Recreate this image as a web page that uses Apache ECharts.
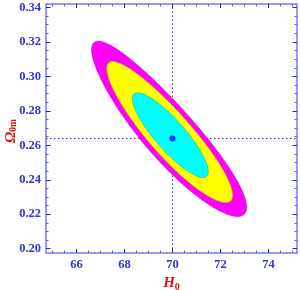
<!DOCTYPE html>
<html><head><meta charset="utf-8">
<script src="https://cdn.jsdelivr.net/npm/echarts@6/dist/echarts.min.js"></script>
<style>html,body{margin:0;padding:0;background:#fff}#c{width:300px;height:290px}</style>
</head><body><div id="c"></div>
<script>
// Best-fit point
const bestH0 = [70.0];
const bestOm = [0.264];
// Confidence contours (outer -> inner): centre, half extent along each axis, correlation,
// plus bend / asymmetric widening (toward low H0, low Omega) of the middle part
const contourNames = ['3sigma', '2sigma', '1sigma'];
const centerH0 = [69.86, 69.885, 69.91];
const centerOm = [0.2698, 0.2678, 0.2659];
const halfH0 = [3.23, 2.625, 1.58];
const halfOm = [0.0506, 0.0407, 0.0246];
const corr = [-0.91, -0.91, -0.86];
const bendH0 = [0.10, 0.04, 0.0];
const bendOm = [0.0014, 0.0006, 0.0];
const widenH0 = [0.045, 0.04, 0.0];
const widenOm = [0.0006, 0.0006, 0.0];
// Tick labels
const xTicks = [66, 68, 70, 72, 74];
const yTicks = [0.20, 0.22, 0.24, 0.26, 0.28, 0.30, 0.32, 0.34];
const xMinor = [65, 65.5, 66.5, 67, 67.5, 68.5, 69, 69.5, 70.5, 71, 71.5, 72.5, 73, 73.5, 74.5, 75];
const yMinor = [0.205, 0.21, 0.215, 0.225, 0.23, 0.235, 0.245, 0.25, 0.255, 0.265, 0.27, 0.275, 0.285, 0.29, 0.295, 0.305, 0.31, 0.315, 0.325, 0.33, 0.335];

const X_MIN = 64.73, X_MAX = 75.19, Y_MIN = 0.1975, Y_MAX = 0.342;
const fillColors = ['#FF00FF', '#FFFF00', '#00FFFF'];
const edgeColors = ['#A000A0', '#A0A000', '#00A0A0'];

function contourPoints(i) {
  const pts = [];
  const phi = Math.acos(corr[i]);
  const N = 200;
  for (let k = 0; k < N; k++) {
    const t = 2 * Math.PI * k / N;
    const s = Math.sin(t);
    const g = s * s, w = s;
    pts.push([
      centerH0[i] + halfH0[i] * Math.cos(t) - bendH0[i] * g - widenH0[i] * w,
      centerOm[i] + halfOm[i] * Math.cos(t + phi) - bendOm[i] * g - widenOm[i] * w
    ]);
  }
  return pts;
}

const axisLineColor = '#7878F0';
const tickColor = '#1E1EE0';
const labelFont = {color: '#3434D8', fontFamily: 'Liberation Serif', fontWeight: 'bold', fontSize: 12.5};

function xAx(pos, major, showLabel) {
  return {
    type: 'value', position: pos, min: X_MIN, max: X_MAX,
    axisLine: {show: major, onZero: false, lineStyle: {color: axisLineColor, width: 1.5}},
    axisTick: {show: true, inside: true, length: major ? 4 : 2.5, customValues: major ? xTicks : xMinor,
      lineStyle: {color: major ? tickColor : '#5A5AE8', width: 1}},
    axisLabel: {show: showLabel, customValues: xTicks, margin: 5, ...labelFont},
    splitLine: {show: false}
  };
}
function yAx(pos, major, showLabel) {
  return {
    type: 'value', position: pos, min: Y_MIN, max: Y_MAX,
    axisLine: {show: major, onZero: false, lineStyle: {color: axisLineColor, width: 1.5}},
    axisTick: {show: true, inside: true, length: major ? 4.5 : 2.5, customValues: major ? yTicks : yMinor,
      lineStyle: {color: major ? tickColor : '#5A5AE8', width: 1}},
    axisLabel: {show: showLabel, customValues: yTicks, margin: 5, formatter: v => v.toFixed(2), ...labelFont},
    splitLine: {show: false}
  };
}

const xAxes = [xAx('bottom', true, true), xAx('bottom', false, false), xAx('top', true, false), xAx('top', false, false)];
xAxes[0].name = '{h|H}{s|0}';
xAxes[0].nameLocation = 'middle';
xAxes[0].nameGap = 22;
xAxes[0].nameTextStyle = {rich: {
  h: {fontFamily: 'Liberation Serif', fontStyle: 'italic', fontWeight: 'bold', fontSize: 15, color: '#E01010'},
  s: {fontFamily: 'Liberation Serif', fontWeight: 'bold', fontSize: 10, color: '#E01010', padding: [7, 0, 0, 0]}
}};
const yAxes = [yAx('left', true, true), yAx('left', false, false), yAx('right', true, false), yAx('right', false, false)];

const series = [];
// dotted reference lines through the best-fit point (behind the contours)
series.push({
  type: 'line', xAxisIndex: 0, yAxisIndex: 0, z: 1, symbol: 'none', silent: true,
  lineStyle: {color: '#2222E0', type: [1.5, 2.5], width: 1},
  data: [[bestH0[0], Y_MIN], [bestH0[0], Y_MAX]]
});
series.push({
  type: 'line', xAxisIndex: 0, yAxisIndex: 0, z: 1, symbol: 'none', silent: true,
  lineStyle: {color: '#2222E0', type: [1.5, 2.5], width: 1},
  data: [[X_MIN, bestOm[0]], [X_MAX, bestOm[0]]]
});
contourNames.forEach((nm, i) => series.push({
  name: nm, type: 'custom', xAxisIndex: 0, yAxisIndex: 0, z: 2 + i,
  data: [0],
  renderItem: (params, api) => ({
    type: 'polygon',
    shape: {points: contourPoints(i).map(p => api.coord(p))},
    style: {fill: fillColors[i], stroke: edgeColors[i], lineWidth: 0.5}
  })
}));
series.push({
  type: 'scatter', xAxisIndex: 0, yAxisIndex: 0, z: 10,
  symbolSize: 6, itemStyle: {color: '#0000FF'},
  data: bestH0.map((h, i) => [h, bestOm[i]])
});

const chart = echarts.init(document.getElementById('c'), null, {renderer: 'canvas'});
chart.setOption({
  animation: false,
  grid: {left: 46, right: 3, top: 4, bottom: 37, containLabel: false, outerBoundsMode: 'none'},
  xAxis: xAxes,
  yAxis: yAxes,
  graphic: [{
    type: 'text', x: 11, y: 131, rotation: Math.PI / 2,
    style: {
      text: '{h|Ω}{s|0m}', align: 'center', verticalAlign: 'middle',
      rich: {
        h: {fontFamily: 'Liberation Serif', fontStyle: 'italic', fontWeight: 'bold', fontSize: 15, fill: '#E01010'},
        s: {fontFamily: 'Liberation Serif', fontWeight: 'bold', fontSize: 9.5, fill: '#E01010', padding: [6, 0, 0, 0]}
      }
    }
  }],
  series: series
});
</script></body></html>
